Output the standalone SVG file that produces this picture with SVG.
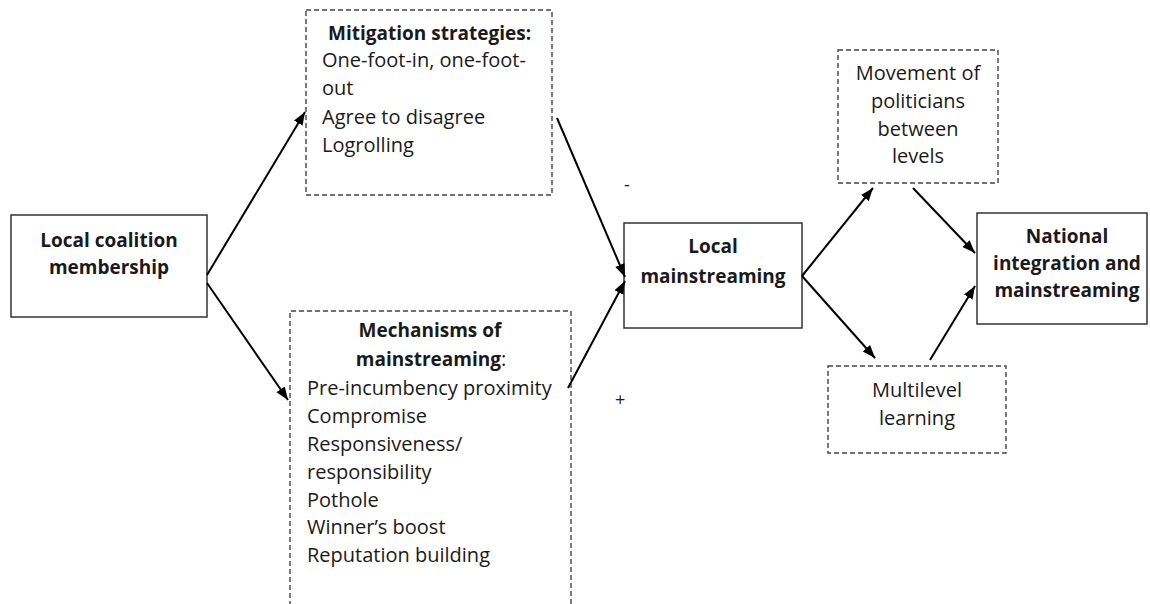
<svg xmlns="http://www.w3.org/2000/svg" width="1150" height="604" viewBox="0 0 1150 604">
<defs>
<style>
text{font-family:"Open Sans","Liberation Sans",sans-serif;font-size:20px;fill:#1a1a1a}
.b{font-weight:bold;font-size:19px}
.c{text-anchor:middle}
.solid{fill:#fff;stroke:#333;stroke-width:1.5}
.dash{fill:#fff;stroke:#444;stroke-width:1.4;stroke-dasharray:5,3}
.conn line{stroke:#000;stroke-width:2;marker-end:url(#ah)}
</style>
<marker id="ah" markerUnits="userSpaceOnUse" markerWidth="14" markerHeight="12" refX="13" refY="5" orient="auto">
<path d="M0,0 L13,5 L0,10 z" fill="#000"/>
</marker>
</defs>
<rect width="1150" height="604" fill="#fff"/>
<g id="local-coalition">
<rect class="solid" x="11" y="215" width="196" height="102"/>
<text class="b c" x="109" y="247">Local coalition</text>
<text class="b c" x="109" y="274">membership</text>
</g>
<g id="mitigation">
<rect class="dash" x="306" y="10" width="246" height="185"/>
<text class="b" x="328" y="40">Mitigation strategies:</text>
<text x="322" y="67">One-foot-in, one-foot-</text>
<text x="322" y="95">out</text>
<text x="322" y="124">Agree to disagree</text>
<text x="322" y="152">Logrolling</text>
</g>
<g id="mechanisms">
<path class="dash" d="M290,606 V311 H571 V606"/>
<text class="c" x="430" y="337"><tspan class="b">Mechanisms of</tspan></text>
<text class="c" x="431" y="366"><tspan class="b">mainstreaming</tspan>:</text>
<text x="307" y="395">Pre-incumbency proximity</text>
<text x="307" y="423">Compromise</text>
<text x="307" y="451">Responsiveness/</text>
<text x="307" y="479">responsibility</text>
<text x="307" y="507">Pothole</text>
<text x="307" y="534">Winner’s boost</text>
<text x="307" y="562">Reputation building</text>
</g>
<g id="local-mainstreaming">
<rect class="solid" x="624" y="223" width="178" height="105"/>
<text class="b c" x="713" y="253">Local</text>
<text class="b c" x="713" y="283">mainstreaming</text>
</g>
<g id="movement">
<rect class="dash" x="838" y="50" width="160" height="133"/>
<text class="c" x="918" y="80">Movement of</text>
<text class="c" x="918" y="108">politicians</text>
<text class="c" x="918" y="136">between</text>
<text class="c" x="918" y="163">levels</text>
</g>
<g id="multilevel">
<rect class="dash" x="828" y="366" width="178" height="87"/>
<text class="c" x="917" y="397">Multilevel</text>
<text class="c" x="917" y="425">learning</text>
</g>
<g id="national">
<rect class="solid" x="977" y="213" width="170" height="111"/>
<text class="b c" x="1067" y="243">National</text>
<text class="b c" x="1067" y="270">integration and</text>
<text class="b c" x="1067" y="297">mainstreaming</text>
</g>
<g id="labels">
<text x="624" y="191" style="font-size:18px">-</text>
<text x="615" y="406" style="font-size:18px">+</text>
</g>
<g id="connectors" class="conn">
<line x1="207" y1="275" x2="305" y2="112"/>
<line x1="207" y1="283" x2="288" y2="400"/>
<line x1="557" y1="118" x2="625" y2="277"/>
<line x1="568" y1="388" x2="625" y2="281"/>
<line x1="802" y1="276" x2="873" y2="188"/>
<line x1="802" y1="276" x2="875" y2="358"/>
<line x1="913" y1="188" x2="975" y2="253"/>
<line x1="930" y1="360" x2="975" y2="286"/>
</g>
</svg>
